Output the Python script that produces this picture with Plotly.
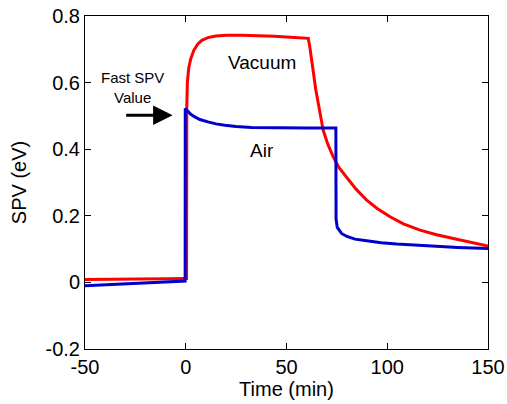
import plotly.graph_objects as go

# Vacuum transient: time (min) and surface photovoltage (eV)
vac_t = [-50, -40, -30, -20, -10, -1, 0.4, 0.5, 0.8, 1.5, 2.5, 4, 6, 8, 11, 15, 20,
         28, 36, 44, 52, 60.8, 61.5, 62.3, 63.2, 64.5, 65.7, 67, 68.2, 70.5, 73.2,
         76, 79.8, 84.5, 89.8, 95, 101.4, 108, 116.3, 124, 132.8, 141, 150]
vac_spv = [0.009, 0.009, 0.010, 0.010, 0.011, 0.012, 0.012, 0.52, 0.60, 0.645, 0.672,
           0.697, 0.716, 0.727, 0.735, 0.740, 0.742, 0.742, 0.741, 0.739, 0.736,
           0.733, 0.71, 0.67, 0.637, 0.58, 0.537, 0.495, 0.457, 0.415, 0.377, 0.345,
           0.317, 0.28, 0.247, 0.222, 0.197, 0.176, 0.157, 0.144, 0.132, 0.12, 0.109]

# Air transient
air_t = [-50, -40, -30, -20, -10, -0.3, -0.25, 1, 2.5, 4.5, 7, 11, 15, 19.4, 25,
         32.6, 45, 60, 74.5, 74.4, 74.6, 75.2, 77.3, 80, 84, 89.8, 97, 104.7, 113,
         121.2, 135, 150]
air_spv = [-0.010, -0.007, -0.005, -0.002, 0.001, 0.004, 0.522, 0.513, 0.505, 0.497,
           0.489, 0.482, 0.476, 0.472, 0.468, 0.465, 0.464, 0.464, 0.464, 0.25, 0.19,
           0.165, 0.147, 0.138, 0.130, 0.125, 0.119, 0.115, 0.112, 0.109, 0.105, 0.102]

x_ticks = [-50, 0, 50, 100, 150]
x_tick_text = ["-50", "0", "50", "100", "150"]
y_ticks = [-0.2, 0, 0.2, 0.4, 0.6, 0.8]
y_tick_text = ["-0.2", "0", "0.2", "0.4", "0.6", "0.8"]

FONT = "Liberation Sans, Arial, sans-serif"

fig = go.Figure()
fig.add_trace(go.Scatter(x=vac_t, y=vac_spv, mode="lines", name="Vacuum",
                         line=dict(color="#FF0000", width=3)))
fig.add_trace(go.Scatter(x=air_t, y=air_spv, mode="lines", name="Air",
                         line=dict(color="#0000CC", width=3)))

axis_common = dict(showline=True, linecolor="black", linewidth=1, mirror="allticks",
                   ticks="inside", ticklen=6, tickcolor="black", showgrid=False,
                   zeroline=False, automargin=False,
                   tickfont=dict(family=FONT, size=20, color="black"))

fig.update_xaxes(range=[-50, 150], tickvals=x_ticks, ticktext=x_tick_text,
                 title=dict(text="Time (min)", font=dict(family=FONT, size=20, color="black"),
                            standoff=0),
                 **axis_common)
fig.update_yaxes(range=[-0.2, 0.8], tickvals=y_ticks, ticktext=y_tick_text,
                 title=dict(text="SPV (eV)", font=dict(family=FONT, size=20, color="black"),
                            standoff=13),
                 **axis_common)

annotations = [
    dict(x=37.8, y=0.66, text="Vacuum", showarrow=False,
         font=dict(family=FONT, size=19, color="black")),
    dict(x=37.8, y=0.397, text="Air", showarrow=False,
         font=dict(family=FONT, size=19, color="black")),
    dict(x=-26.5, y=0.585, text="Fast SPV<br>Value", showarrow=False,
         font=dict(family=FONT, size=15, color="black")),
    dict(x=-6.5, y=0.502, ax=-30.3, ay=0.502, xref="x", yref="y", axref="x", ayref="y",
         text="", showarrow=True, arrowhead=2, arrowsize=1.3, arrowwidth=3,
         arrowcolor="black"),
]

fig.update_layout(width=507, height=404, margin=dict(l=85, r=19, t=16, b=55),
                  plot_bgcolor="white", paper_bgcolor="white", showlegend=False,
                  annotations=annotations)

fig.write_html("out.html")
